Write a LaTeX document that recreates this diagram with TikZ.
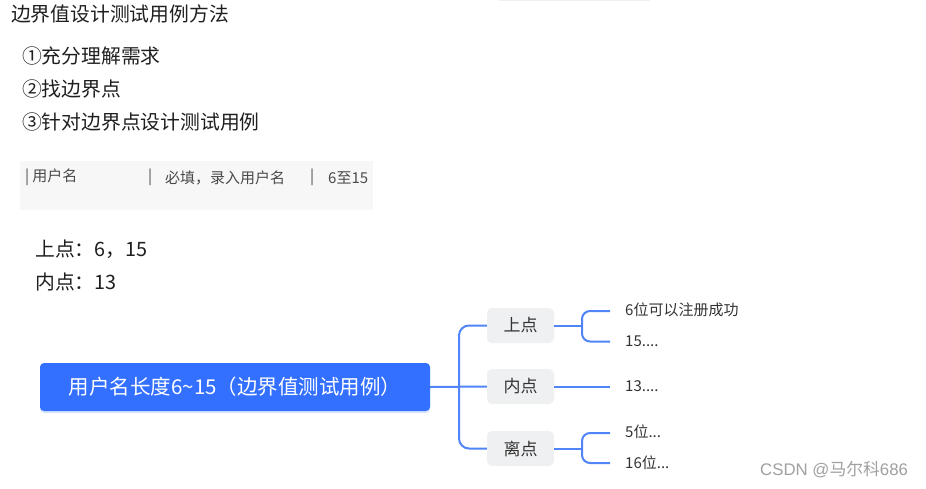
\documentclass[tikz,border=0pt]{standalone}
\usepackage{fontspec}
\setmainfont{Noto Sans CJK SC}
\newfontfamily\latf{Liberation Sans}
\usetikzlibrary{shadows}
\definecolor{mainblue}{HTML}{3370FF}
\definecolor{connblue}{HTML}{5085F8}
\definecolor{boxgray}{HTML}{EFF0F2}
\definecolor{codebg}{HTML}{F7F7F7}
\definecolor{txt}{HTML}{1F1F1F}
\definecolor{codetxt}{HTML}{4A4A4A}
\definecolor{leaftxt}{HTML}{333333}
\definecolor{wm}{HTML}{A0A0A0}
\tikzset{
  plain/.style={anchor=west,inner sep=0pt,text=txt,font=\fontsize{19.8}{22}\selectfont},
  codet/.style={anchor=west,inner sep=0pt,text=codetxt,font=\fontsize{15}{17}\selectfont},
  mainbox/.style={draw=none,fill=mainblue,rounded corners=4pt,minimum width=390pt,minimum height=48pt,text=white,font=\fontsize{20.5}{22}\selectfont,drop shadow={shadow xshift=0pt,shadow yshift=-2pt,opacity=0.18,fill=mainblue}},
  subbox/.style={fill=boxgray,rounded corners=5pt,minimum width=67pt,minimum height=35pt,text=leaftxt,font=\fontsize{17}{19}\selectfont},
  conn/.style={draw=connblue,line width=2pt},
  leaf/.style={anchor=west,inner sep=0pt,text=leaftxt,font=\fontsize{15}{17}\selectfont}
}
\begin{document}
\begin{tikzpicture}[x=1pt,y=-1pt]
\useasboundingbox (0,0) rectangle (926,488);
\fill[white] (0,0) rectangle (926,488);
\fill[black!6] (499,0) rectangle (650,1);
% heading and list
\node[plain] (title) at (11,14) {边界值设计测试用例方法};
\node[plain] (s1) at (22,56) {①充分理解需求};
\node[plain] (s2) at (22,89) {②找边界点};
\node[plain] (s3) at (22,122) {③针对边界点设计测试用例};
% code block
\fill[codebg] (20,161) rectangle (373,210);
\node[codet] (c1) at (25,177.5) {|\hspace{3pt}用户名};
\node[codet] (c2) at (148,177.5) {|};
\node[codet] (c3) at (165,177.5) {必填，录入用户名};
\node[codet] (c4) at (310,177.5) {|};
\node[codet] (c5) at (328,177.5) {6至15};
% points
\node[plain] (p1) at (35,249) {上点：6，15};
\node[plain] (p2) at (35,282) {内点：13};
% mind map
\node[mainbox] (main) at (235,387) {用户名长度6\textasciitilde15（边界值测试用例）};
\node[subbox] (b1) at (520.5,325.5) {上点};
\node[subbox] (b2) at (520.5,386.5) {内点};
\node[subbox] (b3) at (520.5,448.5) {离点};
\draw[conn] (main.east) -- (b2.west);
\draw[conn,rounded corners=10pt] (b1.west) -- (459,325.5) -- (459,448.5) -- (b3.west);
\coordinate (e11) at (610,311);
\coordinate (e12) at (610,341.5);
\coordinate (e21) at (610,386.5);
\coordinate (e31) at (610,433);
\coordinate (e32) at (610,463);
\draw[conn] (b1.east) -- (582,325.5);
\draw[conn,rounded corners=8pt] (e11) -- (582,311) -- (582,341.5) -- (e12);
\draw[conn] (b2.east) -- (e21);
\draw[conn] (b3.east) -- (582,448.5);
\draw[conn,rounded corners=8pt] (e31) -- (582,433) -- (582,463) -- (e32);
\node[leaf] (l11) at (625,310) {6位可以注册成功};
\node[leaf] (l12) at (625,341) {15....};
\node[leaf] (l21) at (625,386) {13....};
\node[leaf] (l31) at (625,432) {5位...};
\node[leaf] (l32) at (625,463) {16位...};
% watermark
\node[anchor=west,inner sep=0pt,text=wm,font=\fontsize{16.8}{18}\selectfont] (wmk) at (760,470) {{\latf CSDN @}马尔科{\latf 686}};
\end{tikzpicture}
\end{document}
